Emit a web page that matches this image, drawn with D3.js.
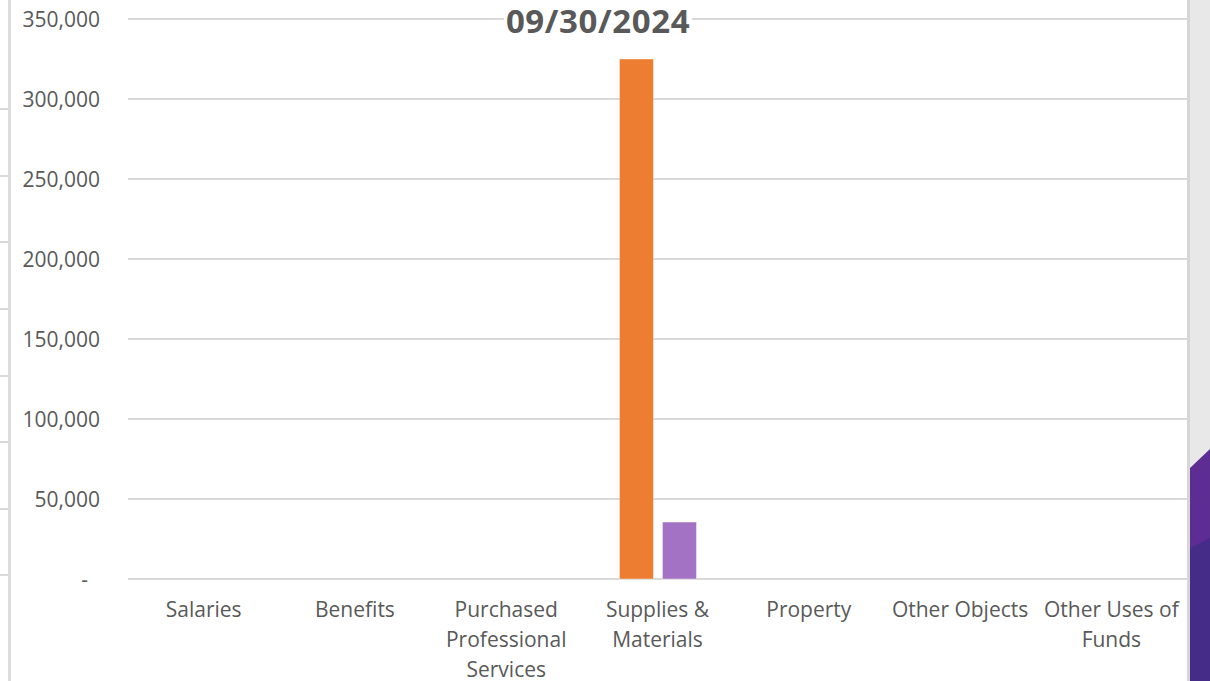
<!DOCTYPE html>
<html>
<head>
<meta charset="utf-8">
<script src="https://cdn.jsdelivr.net/npm/d3@7"></script>
<style>
  html, body { margin: 0; padding: 0; background: #fff; }
  svg { display: block; font-family: "Open Sans", "Noto Sans", sans-serif; }
</style>
</head>
<body>
<svg id="chart" width="1210" height="681"></svg>
<script>
var categories = ["Salaries", "Benefits", "Purchased Professional Services", "Supplies & Materials", "Property", "Other Objects", "Other Uses of Funds"];
var seriesNames = ["Series 1", "Series 2"];
var series1 = [0, 0, 0, 325000, 0, 0, 0];
var series2 = [0, 0, 0, 35600, 0, 0, 0];
var seriesColors = ["#ed7d31", "#a472c4"];
var yTicks = [0, 50000, 100000, 150000, 200000, 250000, 300000, 350000];
var title = "09/30/2024";

var svg = d3.select("#chart");
var W = 1210, H = 681;
var plotLeft = 128, plotRight = 1187, plotTop = 19, plotBottom = 579;
var FONT = "'Open Sans', 'Noto Sans', sans-serif";

var rows = categories.map(function (c, i) {
	return { cat: c, values: [series1[i], series2[i]] };
});

var x = d3.scaleBand().domain(categories).range([plotLeft, plotRight]).padding(0);
var y = d3.scaleLinear().domain([0, 350000]).range([plotBottom, plotTop]);
var bw = x.bandwidth();
var xSub = d3.scaleBand().domain(seriesNames)
	.range([bw * 0.2485, bw * 0.7575]).paddingInner(0.21).paddingOuter(0);

// leftovers of the slide around the chart
svg.append("rect").attr("x", 8).attr("y", 0).attr("width", 3).attr("height", H).attr("fill", "#dcdcdc");
[109, 176, 242, 309, 376, 442, 509, 575].forEach(function (ty) {
	svg.append("rect").attr("x", 0).attr("y", ty - 1).attr("width", 8).attr("height", 2).attr("fill", "#d9d9d9");
});
svg.append("rect").attr("x", 1187).attr("y", 0).attr("width", 3).attr("height", H).attr("fill", "#d6d6d6");
svg.append("rect").attr("x", 1190).attr("y", 0).attr("width", 20).attr("height", H).attr("fill", "#e8e8e8");
svg.append("polygon").attr("points", "1190,468 1210,449 1210,681 1190,681").attr("fill", "#5e2d93");
svg.append("polygon").attr("points", "1190,548 1210,538 1210,681 1190,681").attr("fill", "#452c88");

// gridlines
svg.append("g").selectAll(".grid")
	.data(yTicks)
	.enter()
	.append("line")
	.attr("class", "grid")
	.attr("x1", plotLeft).attr("x2", plotRight)
	.attr("y1", function (d) { return y(d); })
	.attr("y2", function (d) { return y(d); })
	.attr("stroke", "#d9d9d9")
	.attr("stroke-width", 2);

// y axis labels
var yAxis = d3.axisLeft(y)
	.tickValues(yTicks)
	.tickSize(0)
	.tickPadding(0)
	.tickFormat(function (d) { return d === 0 ? "-" : d3.format(",")(d); });

var ya = svg.append("g")
	.attr("transform", "translate(100,0)")
	.call(yAxis)
	.attr("font-family", FONT)
	.attr("font-size", 21);
ya.select(".domain").remove();
ya.selectAll("text")
	.attr("fill", "#595959")
	.attr("dy", "0.35em")
	.attr("x", function (d) { return d === 0 ? -12 : 0; });

// bars
var groups = svg.selectAll(".cat")
	.data(rows)
	.enter()
	.append("g")
	.attr("class", "cat")
	.attr("transform", function (d) { return "translate(" + x(d.cat) + ",0)"; });

groups.selectAll("rect")
	.data(function (d) {
		return d.values.map(function (v, i) { return { name: seriesNames[i], value: v, i: i }; })
			.filter(function (e) { return e.value > 0; });
	})
	.enter()
	.append("rect")
	.attr("x", function (d) { return xSub(d.name); })
	.attr("y", function (d) { return y(d.value); })
	.attr("width", xSub.bandwidth())
	.attr("height", function (d) { return y(0) - y(d.value); })
	.attr("fill", function (d) { return seriesColors[d.i]; })
	.attr("stroke", "#fff")
	.attr("stroke-opacity", 0.4)
	.attr("stroke-width", 1);

// x axis labels, wrapped like Excel does
var xAxis = d3.axisBottom(x).tickSize(0).tickPadding(0);
var xa = svg.append("g")
	.attr("transform", "translate(0," + plotBottom + ")")
	.call(xAxis)
	.attr("font-family", FONT)
	.attr("font-size", 21);
xa.select(".domain").remove();
xa.selectAll("text")
	.attr("fill", "#595959")
	.attr("y", 38)
	.attr("dy", 0)
	.each(function (d) {
		var t = d3.select(this);
		var words = d.split(" ");
		var lines = [];
		var line = [];
		t.text(null);
		var probe = t.append("tspan");
		words.forEach(function (w) {
			line.push(w);
			probe.text(line.join(" "));
			if (probe.node().getComputedTextLength() > bw - 6 && line.length > 1) {
				line.pop();
				lines.push(line.join(" "));
				line = [w];
			}
		});
		lines.push(line.join(" "));
		probe.remove();
		lines.forEach(function (l, i) {
			t.append("tspan").attr("x", 0).attr("y", 38 + i * 30).text(l);
		});
	});

// title with white backing so the top gridline hides behind it
var tt = svg.append("text")
	.attr("x", 598)
	.attr("y", 33)
	.attr("text-anchor", "middle")
	.attr("font-family", FONT)
	.attr("font-size", 33)
	.attr("font-weight", "bold")
	.attr("letter-spacing", 0.6)
	.attr("fill", "#595959")
	.text(title);
var bb = tt.node().getBBox();
svg.append("rect")
	.attr("x", bb.x - 2).attr("y", bb.y).attr("width", bb.width + 4).attr("height", bb.height)
	.attr("fill", "#fff");
tt.raise();
</script>
</body>
</html>
